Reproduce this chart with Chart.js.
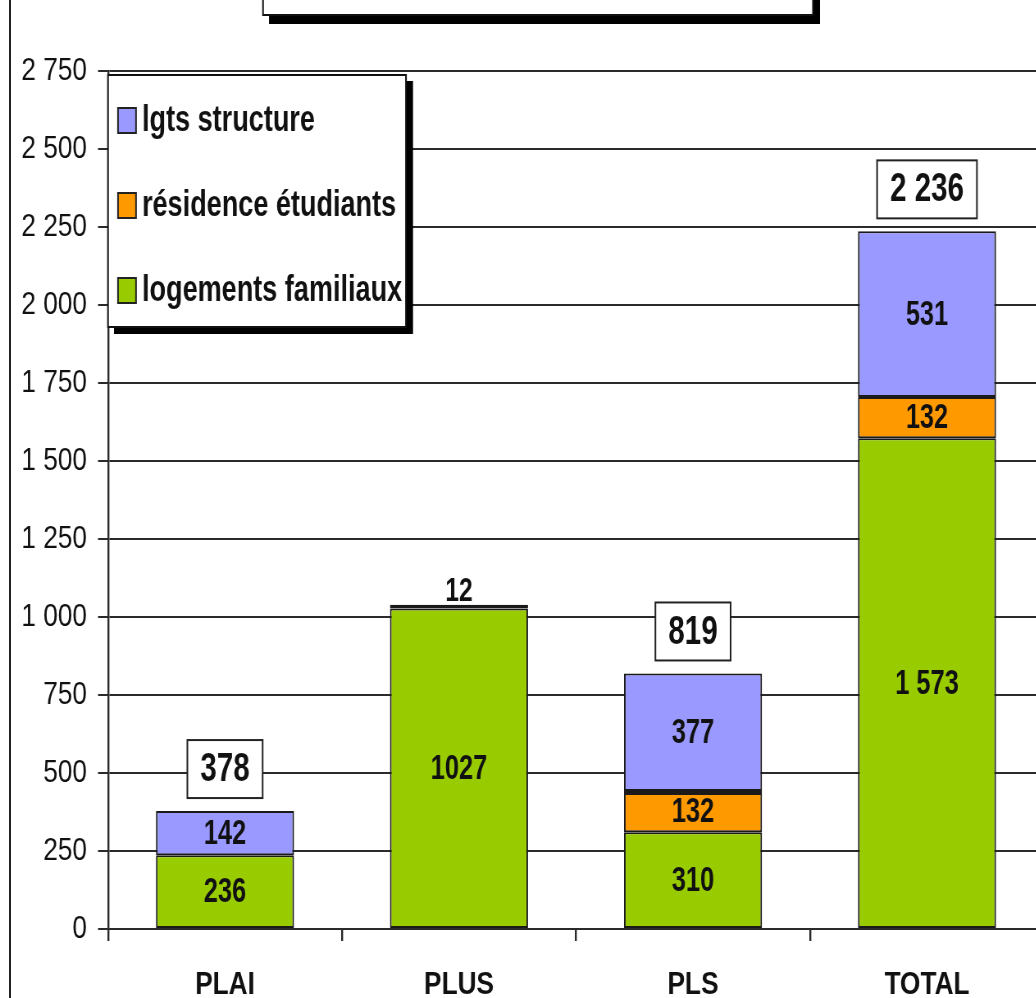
<!DOCTYPE html>
<html>
<head>
<meta charset="utf-8">
<script src="https://cdn.jsdelivr.net/npm/chart.js@4/dist/chart.umd.min.js"></script>
<style>
  html, body { margin: 0; padding: 0; background: #fff; overflow: hidden; }
  /* rendu plus large puis compressé horizontalement : Arial -> "Arial Narrow" */
  #wrap { position: absolute; left: 0; top: 0; width: 1293px; height: 1010px;
          transform: scaleX(0.82); transform-origin: 0 0; }
  #edge { position: absolute; left: 9px; top: 0; width: 2px; height: 998px; background: #222; }
</style>
</head>
<body>
<div id="wrap"><canvas id="chart"></canvas></div>
<div id="edge"></div>
<script>
// categories et valeurs
const categories = ['PLAI', 'PLUS', 'PLS', 'TOTAL'];
const logementsFamiliaux = [236, 1027, 310, 1573];
const residenceEtudiants = [null, null, 132, 132];
const lgtsStructure = [142, 12, 377, 531];
const yTicks = [0, 250, 500, 750, 1000, 1250, 1500, 1750, 2000, 2250, 2500, 2750];

const SX = 0.82;                  // compression horizontale du conteneur
const px = x => x / SX;           // position écran -> position canvas
const FONT = "'Liberation Sans', Arial, sans-serif";
Chart.defaults.font.family = FONT;

// 2750 -> "2 750"
function spaced(v) {
    return String(v).replace(/\B(?=(\d{3})+(?!\d))/g, ' ');
}

// texte un peu étiré en hauteur, comme l'original
function tallText(ctx, txt, x, y) {
    ctx.save();
    ctx.translate(x, y);
    ctx.scale(1, 1.12);
    ctx.fillText(txt, 0, 0);
    ctx.restore();
}

// boite de titre (coupée en haut) + légende encadrée avec ombre
const framePlugin = {
    id: 'frames',
    afterDraw(chart) {
        const ctx = chart.ctx;
        ctx.save();
        // titre
        ctx.fillStyle = '#000';
        ctx.fillRect(px(269), -10, px(551), 34);
        ctx.fillStyle = '#fff';
        ctx.fillRect(px(263), -10, px(550), 25);
        ctx.strokeStyle = '#111';
        ctx.lineWidth = 2;
        ctx.strokeRect(px(263), -10, px(550), 25);

        // légende
        ctx.fillStyle = '#000';
        ctx.fillRect(px(114), 81, px(299), 253);
        ctx.fillStyle = '#fff';
        ctx.fillRect(px(108), 75, px(298), 252);
        ctx.strokeStyle = '#111';
        ctx.strokeRect(px(108), 75, px(298), 252);

        const ds = chart.data.datasets.slice().reverse();
        ds.forEach((d, i) => {
            const cy = 120 + i * 85;
            ctx.fillStyle = d.legendColor;
            ctx.fillRect(px(118), cy - 12, px(18), 25);
            ctx.strokeStyle = '#222';
            ctx.lineWidth = 2;
            ctx.strokeRect(px(118), cy - 12, px(18), 25);
            ctx.fillStyle = '#111';
            ctx.font = "bold 33px " + FONT;
            ctx.textAlign = 'left';
            ctx.textBaseline = 'middle';
            tallText(ctx, d.label, px(142), cy + 1);
        });
        ctx.restore();
    }
};

// valeurs dans les segments + totaux encadrés
const labelPlugin = {
    id: 'valueLabels',
    afterDatasetsDraw(chart) {
        const ctx = chart.ctx;
        ctx.save();
        ctx.textAlign = 'center';
        ctx.textBaseline = 'middle';
        ctx.fillStyle = '#111';
        const n = chart.data.labels.length;
        for (let j = 0; j < n; j++) {
            let total = 0, topBar = null, topVal = 0;
            chart.data.datasets.forEach((d, i) => {
                const v = d.data[j];
                if (v == null) return;
                total += v;
                const bar = chart.getDatasetMeta(i).data[j];
                topBar = bar; topVal = v;
                if (v < 50) return;
                const txt = chart.data.labels[j] === 'TOTAL' ? spaced(v) : String(v);
                ctx.font = "bold 31px " + FONT;
                tallText(ctx, txt, bar.x, (bar.y + bar.base) / 2 + 1);
            });
            if (!topBar) continue;
            if (topVal < 50) {
                // petit segment : valeur écrite au-dessus, sans total
                ctx.font = "bold 30px " + FONT;
                tallText(ctx, String(topVal), topBar.x, topBar.y - 13);
                continue;
            }
            const txt = spaced(total);
            ctx.font = "bold 36px " + FONT;
            const w = ctx.measureText(txt).width + px(26);
            const h = 58;
            const bx = topBar.x - w / 2;
            const by = topBar.y - 13 - h;
            ctx.fillStyle = '#fff';
            ctx.fillRect(bx, by, w, h);
            ctx.strokeStyle = '#222';
            ctx.lineWidth = 2;
            ctx.strokeRect(bx, by, w, h);
            ctx.fillStyle = '#111';
            tallText(ctx, txt, topBar.x, by + h / 2 + 1);
        }
        ctx.restore();
    }
};

new Chart(document.getElementById('chart'), {
    type: 'bar',
    data: {
        labels: categories,
        datasets: [{
            label: 'logements familiaux',
            data: logementsFamiliaux,
            backgroundColor: '#99cc00',
            legendColor: '#99cc00'
        }, {
            label: 'résidence étudiants',
            data: residenceEtudiants,
            backgroundColor: '#ff9900',
            legendColor: '#ff9900',
            // trait noir épais entre orange et bleu sur PLS
            borderWidth: ctx => ctx.dataIndex === 2 ? { top: 4, bottom: 2, left: 2, right: 2 } : 2
        }, {
            label: 'lgts structure',
            data: lgtsStructure,
            backgroundColor: ctx => lgtsStructure[ctx.dataIndex] < 50 ? '#000000' : '#9999ff',
            legendColor: '#9999ff'
        }]
    },
    options: {
        responsive: true,
        maintainAspectRatio: false,
        animation: false,
        layout: { padding: { left: 0, top: 71, right: 1293 - px(1044), bottom: 0 } },
        datasets: {
            bar: {
                categoryPercentage: 1,
                barPercentage: 0.59,
                borderColor: '#1a1a1a',
                borderWidth: 2,
                borderSkipped: false
            }
        },
        plugins: {
            legend: { display: false },
            title: { display: false },
            tooltip: { enabled: false }
        },
        scales: {
            x: {
                stacked: true,
                afterFit: s => { s.height = 81; },
                grid: { drawOnChartArea: false, tickLength: 12, lineWidth: 2.4, color: '#2b2b2b' },
                border: { display: true, color: '#2b2b2b', width: 2 },
                ticks: { padding: 25, color: '#111', font: { size: 32, weight: 'bold' } }
            },
            y: {
                stacked: true,
                min: 0,
                max: 2750,
                afterFit: s => { s.width = px(108); },
                afterBuildTicks: s => { s.ticks = yTicks.map(v => ({ value: v })); },
                grid: { color: '#2b2b2b', lineWidth: 2, tickLength: px(10) },
                border: { display: true, color: '#2b2b2b', width: 2.4 },
                ticks: {
                    padding: px(11),
                    color: '#111',
                    font: { size: 32 },
                    callback: v => spaced(v)
                }
            }
        }
    },
    plugins: [labelPlugin, framePlugin]
});
</script>
</body>
</html>
